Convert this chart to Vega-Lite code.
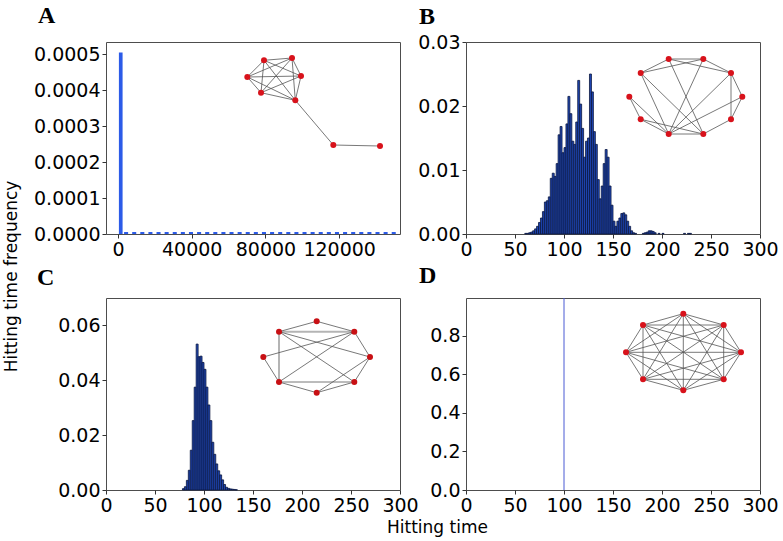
{
  "$schema": "https://vega.github.io/schema/vega-lite/v6.json",
  "background": "white",
  "autosize": {"type": "none"},
  "padding": {"left": 106, "top": 42, "right": 677, "bottom": 499},
  "columns": 2,
  "spacing": {"row": 64, "column": 66},
  "bounds": "flush",
  "datasets": {
    "histA": [
      {"x0": 500, "x1": 2500, "v": 0.000505},
      {"x0": 3300, "x1": 5500, "v": 0.0000055}, {"x0": 7700, "x1": 9900, "v": 0.0000055},
      {"x0": 12100, "x1": 14300, "v": 0.0000055}, {"x0": 16500, "x1": 18700, "v": 0.0000055},
      {"x0": 20900, "x1": 23100, "v": 0.0000055}, {"x0": 25300, "x1": 27500, "v": 0.0000055},
      {"x0": 29700, "x1": 31900, "v": 0.0000055}, {"x0": 34100, "x1": 36300, "v": 0.0000055},
      {"x0": 38500, "x1": 40700, "v": 0.0000055}, {"x0": 42900, "x1": 45100, "v": 0.0000055},
      {"x0": 47300, "x1": 49500, "v": 0.0000055}, {"x0": 51700, "x1": 53900, "v": 0.0000055},
      {"x0": 56100, "x1": 58300, "v": 0.0000055}, {"x0": 60500, "x1": 62700, "v": 0.0000055},
      {"x0": 64900, "x1": 67100, "v": 0.0000055}, {"x0": 69300, "x1": 71500, "v": 0.0000055},
      {"x0": 73700, "x1": 75900, "v": 0.0000055}, {"x0": 78100, "x1": 80300, "v": 0.0000055},
      {"x0": 82500, "x1": 84700, "v": 0.0000055}, {"x0": 86900, "x1": 89100, "v": 0.0000055},
      {"x0": 91300, "x1": 93500, "v": 0.0000055}, {"x0": 95700, "x1": 97900, "v": 0.0000055},
      {"x0": 100100, "x1": 102300, "v": 0.0000055}, {"x0": 104500, "x1": 106700, "v": 0.0000055},
      {"x0": 108900, "x1": 111100, "v": 0.0000055}, {"x0": 113300, "x1": 115500, "v": 0.0000055},
      {"x0": 117700, "x1": 119900, "v": 0.0000055}, {"x0": 122100, "x1": 124300, "v": 0.0000055},
      {"x0": 126500, "x1": 128700, "v": 0.0000055}, {"x0": 130900, "x1": 133100, "v": 0.0000055},
      {"x0": 135300, "x1": 137500, "v": 0.0000055}, {"x0": 139700, "x1": 141900, "v": 0.0000055},
      {"x0": 144100, "x1": 146300, "v": 0.0000055}, {"x0": 148500, "x1": 150700, "v": 0.0000055}
    ],
    "histB": [
      {"x0": 60, "x1": 62, "v": 0.0001}, {"x0": 62, "x1": 64, "v": 0.0001},
      {"x0": 64, "x1": 66, "v": 0.0002}, {"x0": 66, "x1": 68, "v": 0.0003},
      {"x0": 68, "x1": 70, "v": 0.0005}, {"x0": 70, "x1": 72, "v": 0.0008},
      {"x0": 72, "x1": 74, "v": 0.0012}, {"x0": 74, "x1": 76, "v": 0.0018},
      {"x0": 76, "x1": 78, "v": 0.0025}, {"x0": 78, "x1": 80, "v": 0.0035},
      {"x0": 80, "x1": 82, "v": 0.0050}, {"x0": 82, "x1": 84, "v": 0.0052},
      {"x0": 84, "x1": 86, "v": 0.0058}, {"x0": 86, "x1": 88, "v": 0.0087},
      {"x0": 88, "x1": 90, "v": 0.0095}, {"x0": 90, "x1": 92, "v": 0.0090},
      {"x0": 92, "x1": 94, "v": 0.0110}, {"x0": 94, "x1": 96, "v": 0.0155},
      {"x0": 96, "x1": 98, "v": 0.0168}, {"x0": 98, "x1": 100, "v": 0.0127},
      {"x0": 100, "x1": 102, "v": 0.0135}, {"x0": 102, "x1": 104, "v": 0.0172},
      {"x0": 104, "x1": 106, "v": 0.0215}, {"x0": 106, "x1": 108, "v": 0.0188},
      {"x0": 108, "x1": 110, "v": 0.0145}, {"x0": 110, "x1": 112, "v": 0.0140},
      {"x0": 112, "x1": 114, "v": 0.0175}, {"x0": 114, "x1": 116, "v": 0.0240},
      {"x0": 116, "x1": 118, "v": 0.0203}, {"x0": 118, "x1": 120, "v": 0.0165},
      {"x0": 120, "x1": 122, "v": 0.0120}, {"x0": 122, "x1": 124, "v": 0.0145},
      {"x0": 124, "x1": 126, "v": 0.0150}, {"x0": 126, "x1": 128, "v": 0.0250},
      {"x0": 128, "x1": 130, "v": 0.0222}, {"x0": 130, "x1": 132, "v": 0.0160},
      {"x0": 132, "x1": 134, "v": 0.0140}, {"x0": 134, "x1": 136, "v": 0.0085},
      {"x0": 136, "x1": 138, "v": 0.0055}, {"x0": 138, "x1": 140, "v": 0.0075},
      {"x0": 140, "x1": 142, "v": 0.0110}, {"x0": 142, "x1": 144, "v": 0.0132},
      {"x0": 144, "x1": 146, "v": 0.0120}, {"x0": 146, "x1": 148, "v": 0.0075},
      {"x0": 148, "x1": 150, "v": 0.0045}, {"x0": 150, "x1": 152, "v": 0.0020},
      {"x0": 152, "x1": 154, "v": 0.0012}, {"x0": 154, "x1": 156, "v": 0.0020},
      {"x0": 156, "x1": 158, "v": 0.0025}, {"x0": 158, "x1": 160, "v": 0.0032},
      {"x0": 160, "x1": 162, "v": 0.0033}, {"x0": 162, "x1": 164, "v": 0.0030},
      {"x0": 164, "x1": 166, "v": 0.0020}, {"x0": 166, "x1": 168, "v": 0.0012},
      {"x0": 168, "x1": 170, "v": 0.0005}, {"x0": 170, "x1": 172, "v": 0.0002},
      {"x0": 172, "x1": 174, "v": 0.0001}, {"x0": 180, "x1": 182, "v": 0.0001},
      {"x0": 182, "x1": 184, "v": 0.0002}, {"x0": 184, "x1": 186, "v": 0.0003},
      {"x0": 186, "x1": 188, "v": 0.0005}, {"x0": 188, "x1": 190, "v": 0.0005},
      {"x0": 190, "x1": 192, "v": 0.0004}, {"x0": 192, "x1": 194, "v": 0.0002},
      {"x0": 196, "x1": 198, "v": 0.0001}, {"x0": 200, "x1": 202, "v": 0.0001},
      {"x0": 222, "x1": 224, "v": 0.0001}, {"x0": 226, "x1": 228, "v": 0.0001},
      {"x0": 228, "x1": 230, "v": 0.0001}
    ],
    "histC": [
      {"x0": 78, "x1": 80, "v": 0.0005}, {"x0": 80, "x1": 82, "v": 0.0012},
      {"x0": 82, "x1": 84, "v": 0.0035}, {"x0": 84, "x1": 86, "v": 0.0072},
      {"x0": 86, "x1": 88, "v": 0.0145}, {"x0": 88, "x1": 90, "v": 0.0253},
      {"x0": 90, "x1": 92, "v": 0.0375}, {"x0": 92, "x1": 94, "v": 0.0532},
      {"x0": 94, "x1": 96, "v": 0.0486}, {"x0": 96, "x1": 98, "v": 0.0488},
      {"x0": 98, "x1": 100, "v": 0.0465}, {"x0": 100, "x1": 102, "v": 0.0440},
      {"x0": 102, "x1": 104, "v": 0.0375}, {"x0": 104, "x1": 106, "v": 0.0310},
      {"x0": 106, "x1": 108, "v": 0.0253}, {"x0": 108, "x1": 110, "v": 0.0174},
      {"x0": 110, "x1": 112, "v": 0.0130}, {"x0": 112, "x1": 114, "v": 0.0095},
      {"x0": 114, "x1": 116, "v": 0.0070}, {"x0": 116, "x1": 118, "v": 0.0055},
      {"x0": 118, "x1": 120, "v": 0.0037}, {"x0": 120, "x1": 122, "v": 0.0020},
      {"x0": 122, "x1": 124, "v": 0.0010}, {"x0": 124, "x1": 126, "v": 0.0006},
      {"x0": 126, "x1": 128, "v": 0.0004}, {"x0": 128, "x1": 130, "v": 0.0003},
      {"x0": 130, "x1": 132, "v": 0.0002}, {"x0": 132, "x1": 134, "v": 0.0001}
    ],
    "histD": [{"t": 100, "v0": 0, "v": 1.0}],
    "nodesA": [
      {"x": 158, "y": 18.3}, {"x": 186, "y": 16}, {"x": 195, "y": 34},
      {"x": 189.3, "y": 58.3}, {"x": 155, "y": 50.7}, {"x": 141.3, "y": 35},
      {"x": 227.3, "y": 103}, {"x": 274, "y": 104}
    ],
    "edgesA": [
      {"xa": 158, "ya": 18.3, "xb": 186, "yb": 16},
      {"xa": 158, "ya": 18.3, "xb": 195, "yb": 34},
      {"xa": 158, "ya": 18.3, "xb": 189.3, "yb": 58.3},
      {"xa": 158, "ya": 18.3, "xb": 155, "yb": 50.7},
      {"xa": 158, "ya": 18.3, "xb": 141.3, "yb": 35},
      {"xa": 186, "ya": 16, "xb": 195, "yb": 34},
      {"xa": 186, "ya": 16, "xb": 189.3, "yb": 58.3},
      {"xa": 186, "ya": 16, "xb": 155, "yb": 50.7},
      {"xa": 186, "ya": 16, "xb": 141.3, "yb": 35},
      {"xa": 195, "ya": 34, "xb": 189.3, "yb": 58.3},
      {"xa": 195, "ya": 34, "xb": 155, "yb": 50.7},
      {"xa": 195, "ya": 34, "xb": 141.3, "yb": 35},
      {"xa": 189.3, "ya": 58.3, "xb": 155, "yb": 50.7},
      {"xa": 189.3, "ya": 58.3, "xb": 141.3, "yb": 35},
      {"xa": 155, "ya": 50.7, "xb": 141.3, "yb": 35},
      {"xa": 189.3, "ya": 58.3, "xb": 227.3, "yb": 103},
      {"xa": 227.3, "ya": 103, "xb": 274, "yb": 104}
    ],
    "nodesB": [
      {"x": 202.7, "y": 17}, {"x": 237.3, "y": 17}, {"x": 265, "y": 31},
      {"x": 276.3, "y": 54.7}, {"x": 265, "y": 77.3}, {"x": 237.3, "y": 92},
      {"x": 202.7, "y": 92}, {"x": 174.7, "y": 77.3}, {"x": 163.3, "y": 54.7},
      {"x": 174.7, "y": 31}
    ],
    "edgesB": [
      {"xa": 202.7, "ya": 17, "xb": 237.3, "yb": 17},
      {"xa": 237.3, "ya": 17, "xb": 265, "yb": 31},
      {"xa": 265, "ya": 31, "xb": 276.3, "yb": 54.7},
      {"xa": 276.3, "ya": 54.7, "xb": 265, "yb": 77.3},
      {"xa": 265, "ya": 77.3, "xb": 237.3, "yb": 92},
      {"xa": 237.3, "ya": 92, "xb": 202.7, "yb": 92},
      {"xa": 202.7, "ya": 92, "xb": 174.7, "yb": 77.3},
      {"xa": 174.7, "ya": 77.3, "xb": 163.3, "yb": 54.7},
      {"xa": 163.3, "ya": 54.7, "xb": 202.7, "yb": 92},
      {"xa": 174.7, "ya": 31, "xb": 202.7, "yb": 17},
      {"xa": 174.7, "ya": 31, "xb": 237.3, "yb": 17},
      {"xa": 202.7, "ya": 17, "xb": 265, "yb": 31},
      {"xa": 265, "ya": 31, "xb": 265, "yb": 77.3},
      {"xa": 174.7, "ya": 31, "xb": 202.7, "yb": 92},
      {"xa": 174.7, "ya": 31, "xb": 237.3, "yb": 92},
      {"xa": 202.7, "ya": 17, "xb": 237.3, "yb": 92},
      {"xa": 237.3, "ya": 17, "xb": 202.7, "yb": 92},
      {"xa": 265, "ya": 31, "xb": 202.7, "yb": 92},
      {"xa": 276.3, "ya": 54.7, "xb": 202.7, "yb": 92},
      {"xa": 174.7, "ya": 77.3, "xb": 237.3, "yb": 92}
    ],
    "nodesC": [
      {"x": 210.7, "y": 23.3}, {"x": 248.3, "y": 33.7}, {"x": 264, "y": 59},
      {"x": 248.3, "y": 84}, {"x": 210.7, "y": 94.7}, {"x": 173, "y": 84},
      {"x": 157.3, "y": 59}, {"x": 173, "y": 33.7}
    ],
    "edgesC": [
      {"xa": 173, "ya": 33.7, "xb": 210.7, "yb": 23.3},
      {"xa": 210.7, "ya": 23.3, "xb": 248.3, "yb": 33.7},
      {"xa": 173, "ya": 33.7, "xb": 264, "yb": 59},
      {"xa": 173, "ya": 33.7, "xb": 248.3, "yb": 84},
      {"xa": 157.3, "ya": 59, "xb": 248.3, "yb": 33.7},
      {"xa": 157.3, "ya": 59, "xb": 173, "yb": 84},
      {"xa": 173, "ya": 84, "xb": 248.3, "yb": 33.7},
      {"xa": 173, "ya": 84, "xb": 248.3, "yb": 84},
      {"xa": 173, "ya": 84, "xb": 210.7, "yb": 94.7},
      {"xa": 210.7, "ya": 94.7, "xb": 264, "yb": 59},
      {"xa": 248.3, "ya": 84, "xb": 264, "yb": 59},
      {"xa": 248.3, "ya": 33.7, "xb": 264, "yb": 59},
      {"xa": 210.7, "ya": 94.7, "xb": 248.3, "yb": 84}
    ],
    "edgesC2": [
      {"xa": 173, "ya": 33.7, "xb": 248.3, "yb": 33.7},
      {"xa": 173, "ya": 33.7, "xb": 173, "yb": 84}
    ],
    "nodesD": [
      {"x": 217.3, "y": 15.7}, {"x": 257.7, "y": 27}, {"x": 275, "y": 54.3},
      {"x": 257.7, "y": 81.3}, {"x": 217.3, "y": 92.3}, {"x": 177, "y": 81.3},
      {"x": 160, "y": 54.3}, {"x": 177, "y": 27}
    ],
    "edgesD": [
      {"xa": 217.3, "ya": 15.7, "xb": 257.7, "yb": 27},
      {"xa": 217.3, "ya": 15.7, "xb": 275, "yb": 54.3},
      {"xa": 217.3, "ya": 15.7, "xb": 257.7, "yb": 81.3},
      {"xa": 217.3, "ya": 15.7, "xb": 217.3, "yb": 92.3},
      {"xa": 217.3, "ya": 15.7, "xb": 177, "yb": 81.3},
      {"xa": 217.3, "ya": 15.7, "xb": 160, "yb": 54.3},
      {"xa": 217.3, "ya": 15.7, "xb": 177, "yb": 27},
      {"xa": 257.7, "ya": 27, "xb": 275, "yb": 54.3},
      {"xa": 257.7, "ya": 27, "xb": 257.7, "yb": 81.3},
      {"xa": 257.7, "ya": 27, "xb": 217.3, "yb": 92.3},
      {"xa": 257.7, "ya": 27, "xb": 177, "yb": 81.3},
      {"xa": 257.7, "ya": 27, "xb": 160, "yb": 54.3},
      {"xa": 257.7, "ya": 27, "xb": 177, "yb": 27},
      {"xa": 275, "ya": 54.3, "xb": 257.7, "yb": 81.3},
      {"xa": 275, "ya": 54.3, "xb": 217.3, "yb": 92.3},
      {"xa": 275, "ya": 54.3, "xb": 177, "yb": 81.3},
      {"xa": 275, "ya": 54.3, "xb": 160, "yb": 54.3},
      {"xa": 275, "ya": 54.3, "xb": 177, "yb": 27},
      {"xa": 257.7, "ya": 81.3, "xb": 217.3, "yb": 92.3},
      {"xa": 257.7, "ya": 81.3, "xb": 177, "yb": 81.3},
      {"xa": 257.7, "ya": 81.3, "xb": 160, "yb": 54.3},
      {"xa": 257.7, "ya": 81.3, "xb": 177, "yb": 27},
      {"xa": 217.3, "ya": 92.3, "xb": 177, "yb": 81.3},
      {"xa": 217.3, "ya": 92.3, "xb": 160, "yb": 54.3},
      {"xa": 217.3, "ya": 92.3, "xb": 177, "yb": 27},
      {"xa": 177, "ya": 81.3, "xb": 160, "yb": 54.3},
      {"xa": 177, "ya": 81.3, "xb": 177, "yb": 27},
      {"xa": 160, "ya": 54.3, "xb": 177, "yb": 27}
    ]
  },
  "concat": [
    {
      "width": 294, "height": 192,
      "title": {"text": "A", "dx": -68, "offset": 14},
      "layer": [
        {
          "data": {"name": "histA"},
          "mark": {"type": "bar", "color": "#2c5be8"},
          "encoding": {
            "x": {"field": "x0", "type": "quantitative", "scale": {"domain": [-6500, 153000], "nice": false, "zero": false},
                  "axis": {"values": [0, 40000, 80000, 120000], "format": "d", "title": null}},
            "x2": {"field": "x1"},
            "y": {"field": "v", "type": "quantitative", "scale": {"domain": [0, 0.000534], "nice": false},
                  "axis": {"values": [0, 0.0001, 0.0002, 0.0003, 0.0004, 0.0005], "format": ".4f",
                           "title": "Hitting time frequency", "titleX": -90, "titleY": 234, "titleAngle": -90,
                           "titleAlign": "center", "titleBaseline": "alphabetic"}},
            "y2": {"datum": 0}
          }
        },
        {
          "data": {"name": "edgesA"},
          "mark": {"type": "rule", "color": "#555555", "strokeWidth": 0.8},
          "encoding": {
            "x": {"field": "xa", "type": "quantitative", "scale": {"domain": [0, 294], "nice": false, "zero": false}, "axis": null},
            "y": {"field": "ya", "type": "quantitative", "scale": {"domain": [0, 192], "nice": false, "zero": false, "reverse": true}, "axis": null},
            "x2": {"field": "xb"}, "y2": {"field": "yb"}
          }
        },
        {
          "data": {"name": "nodesA"},
          "mark": {"type": "circle", "size": 36, "color": "#d8121b", "opacity": 1},
          "encoding": {
            "x": {"field": "x", "type": "quantitative", "scale": {"domain": [0, 294], "nice": false, "zero": false}, "axis": null},
            "y": {"field": "y", "type": "quantitative", "scale": {"domain": [0, 192], "nice": false, "zero": false, "reverse": true}, "axis": null}
          }
        }
      ],
      "resolve": {"scale": {"x": "independent", "y": "independent"}}
    },
    {
      "width": 294, "height": 192,
      "title": {"text": "B", "dx": -47, "offset": 4.5},
      "layer": [
        {
          "data": {"name": "histB"},
          "mark": {"type": "bar", "fill": "#1f46b4", "stroke": "#0a163f", "strokeWidth": 0.8},
          "encoding": {
            "x": {"field": "x0", "type": "quantitative", "scale": {"domain": [0, 300], "nice": false, "zero": false},
                  "axis": {"values": [0, 50, 100, 150, 200, 250, 300], "title": null}},
            "x2": {"field": "x1"},
            "y": {"field": "v", "type": "quantitative", "scale": {"domain": [0, 0.03], "nice": false},
                  "axis": {"values": [0, 0.01, 0.02, 0.03], "format": ".2f", "title": null}},
            "y2": {"datum": 0}
          }
        },
        {
          "data": {"name": "edgesB"},
          "mark": {"type": "rule", "color": "#555555", "strokeWidth": 0.8},
          "encoding": {
            "x": {"field": "xa", "type": "quantitative", "scale": {"domain": [0, 294], "nice": false, "zero": false}, "axis": null},
            "y": {"field": "ya", "type": "quantitative", "scale": {"domain": [0, 192], "nice": false, "zero": false, "reverse": true}, "axis": null},
            "x2": {"field": "xb"}, "y2": {"field": "yb"}
          }
        },
        {
          "data": {"name": "nodesB"},
          "mark": {"type": "circle", "size": 36, "color": "#d8121b", "opacity": 1},
          "encoding": {
            "x": {"field": "x", "type": "quantitative", "scale": {"domain": [0, 294], "nice": false, "zero": false}, "axis": null},
            "y": {"field": "y", "type": "quantitative", "scale": {"domain": [0, 192], "nice": false, "zero": false, "reverse": true}, "axis": null}
          }
        }
      ],
      "resolve": {"scale": {"x": "independent", "y": "independent"}}
    },
    {
      "width": 294, "height": 192,
      "title": {"text": "C", "dx": -69, "offset": 8},
      "layer": [
        {
          "data": {"name": "histC"},
          "mark": {"type": "bar", "fill": "#1f46b4", "stroke": "#0a163f", "strokeWidth": 0.8},
          "encoding": {
            "x": {"field": "x0", "type": "quantitative", "scale": {"domain": [0, 300], "nice": false, "zero": false},
                  "axis": {"values": [0, 50, 100, 150, 200, 250, 300], "title": "Hitting time",
                           "titleX": 331, "titleY": 42, "titleAlign": "center", "titleBaseline": "alphabetic"}},
            "x2": {"field": "x1"},
            "y": {"field": "v", "type": "quantitative", "scale": {"domain": [0, 0.07], "nice": false},
                  "axis": {"values": [0, 0.02, 0.04, 0.06], "format": ".2f", "title": null}},
            "y2": {"datum": 0}
          }
        },
        {
          "data": {"name": "edgesC2"},
          "mark": {"type": "rule", "color": "#b4b4b4", "strokeWidth": 2},
          "encoding": {
            "x": {"field": "xa", "type": "quantitative", "scale": {"domain": [0, 294], "nice": false, "zero": false}, "axis": null},
            "y": {"field": "ya", "type": "quantitative", "scale": {"domain": [0, 192], "nice": false, "zero": false, "reverse": true}, "axis": null},
            "x2": {"field": "xb"}, "y2": {"field": "yb"}
          }
        },
        {
          "data": {"name": "edgesC"},
          "mark": {"type": "rule", "color": "#555555", "strokeWidth": 0.8},
          "encoding": {
            "x": {"field": "xa", "type": "quantitative", "scale": {"domain": [0, 294], "nice": false, "zero": false}, "axis": null},
            "y": {"field": "ya", "type": "quantitative", "scale": {"domain": [0, 192], "nice": false, "zero": false, "reverse": true}, "axis": null},
            "x2": {"field": "xb"}, "y2": {"field": "yb"}
          }
        },
        {
          "data": {"name": "nodesC"},
          "mark": {"type": "circle", "size": 36, "color": "#c81014", "opacity": 1},
          "encoding": {
            "x": {"field": "x", "type": "quantitative", "scale": {"domain": [0, 294], "nice": false, "zero": false}, "axis": null},
            "y": {"field": "y", "type": "quantitative", "scale": {"domain": [0, 192], "nice": false, "zero": false, "reverse": true}, "axis": null}
          }
        }
      ],
      "resolve": {"scale": {"x": "independent", "y": "independent"}}
    },
    {
      "width": 294, "height": 192,
      "title": {"text": "D", "dx": -47, "offset": 10},
      "layer": [
        {
          "data": {"name": "histD"},
          "mark": {"type": "rule", "color": "#4a5ad4", "strokeWidth": 1, "clip": true},
          "encoding": {
            "x": {"field": "t", "type": "quantitative", "scale": {"domain": [0, 300], "nice": false, "zero": false},
                  "axis": {"values": [0, 50, 100, 150, 200, 250, 300], "title": null}},
            "y": {"field": "v0", "type": "quantitative", "scale": {"domain": [0, 0.995], "nice": false},
                  "axis": {"values": [0, 0.2, 0.4, 0.6, 0.8], "format": ".1f", "title": null}},
            "y2": {"field": "v"}
          }
        },
        {
          "data": {"name": "edgesD"},
          "mark": {"type": "rule", "color": "#555555", "strokeWidth": 0.8},
          "encoding": {
            "x": {"field": "xa", "type": "quantitative", "scale": {"domain": [0, 294], "nice": false, "zero": false}, "axis": null},
            "y": {"field": "ya", "type": "quantitative", "scale": {"domain": [0, 192], "nice": false, "zero": false, "reverse": true}, "axis": null},
            "x2": {"field": "xb"}, "y2": {"field": "yb"}
          }
        },
        {
          "data": {"name": "nodesD"},
          "mark": {"type": "circle", "size": 36, "color": "#d8121b", "opacity": 1},
          "encoding": {
            "x": {"field": "x", "type": "quantitative", "scale": {"domain": [0, 294], "nice": false, "zero": false}, "axis": null},
            "y": {"field": "y", "type": "quantitative", "scale": {"domain": [0, 192], "nice": false, "zero": false, "reverse": true}, "axis": null}
          }
        }
      ],
      "resolve": {"scale": {"x": "independent", "y": "independent"}}
    }
  ],
  "config": {
    "view": {"stroke": "#4d4d4d", "strokeWidth": 1},
    "axis": {
      "domain": false, "grid": false,
      "labelFont": "DejaVu Sans", "labelFontSize": 19, "labelColor": "#000000",
      "labelFlush": false, "labelOverlap": false, "labelBound": false,
      "tickColor": "#333333", "tickSize": 4, "labelPadding": 2,
      "titleFont": "DejaVu Sans", "titleFontSize": 17, "titleFontWeight": "normal", "titleColor": "#000000"
    },
    "title": {
      "font": "Liberation Serif", "fontSize": 24, "fontWeight": "bold", "color": "#000000",
      "anchor": "start", "frame": "group", "baseline": "alphabetic"
    }
  }
}
